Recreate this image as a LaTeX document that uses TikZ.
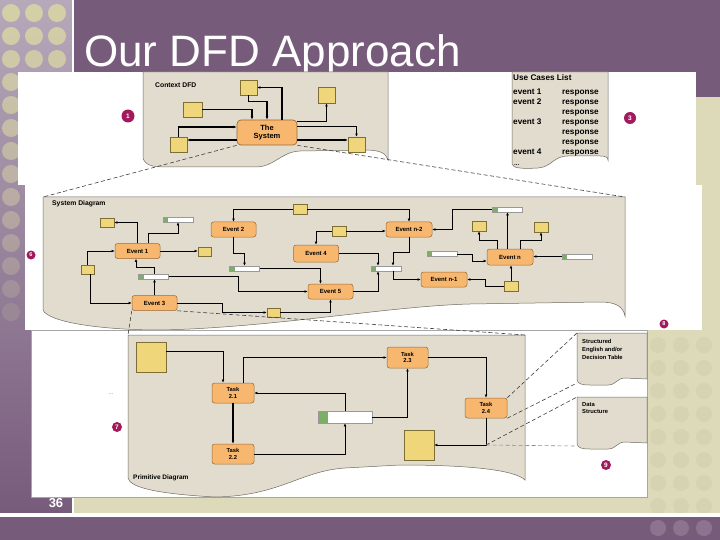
\documentclass[tikz,border=0pt]{standalone}
\usepackage{fontspec}
\setmainfont{Liberation Sans}
\setsansfont{Liberation Sans}
\usetikzlibrary{arrows.meta}

\definecolor{slidepurple}{HTML}{775B7B}
\definecolor{lavtop}{HTML}{B6A9BA}
\definecolor{slidebeige}{HTML}{DCDAB9}
\definecolor{beigedot}{HTML}{D5D3B2}
\definecolor{banddot}{HTML}{8C748F}
\definecolor{dotbeige}{HTML}{D6D2A6}
\definecolor{panelfill}{HTML}{E2DCCE}
\definecolor{paneledge}{HTML}{6F6B62}
\definecolor{evtorange}{HTML}{F8B76E}
\definecolor{evtedge}{HTML}{9A6A36}
\definecolor{yelfill}{HTML}{EFD67A}
\definecolor{yeledge}{HTML}{7D6E36}
\definecolor{storegreen}{HTML}{7CAE69}
\definecolor{badgered}{HTML}{A2195C}

\tikzset{
  panel/.style={fill=panelfill, draw=paneledge, line width=0.5pt},
  evt/.style={draw=evtedge, fill=evtorange, rounded corners=2.5pt, line width=0.5pt,
    minimum width=45pt, minimum height=15pt, inner sep=0pt,
    font=\bfseries\fontsize{6}{7}\selectfont},
  task/.style={evt, minimum width=42pt, minimum height=20pt, align=center,
    font=\bfseries\fontsize{5.8}{6.8}\selectfont},
  yb/.style={draw=yeledge, fill=yelfill, line width=0.5pt, inner sep=0pt,
    minimum width=14pt, minimum height=10pt},
  dstore/.style={draw=gray!80, fill=white, line width=0.4pt, inner sep=0pt,
    minimum width=30pt, minimum height=5pt,
    path picture={\fill[storegreen] (path picture bounding box.north west)
      rectangle ([xshift=#1]path picture bounding box.south west);}},
  dstore/.default=5pt,
  flow/.style={line width=0.9pt, -{Latex[length=3.2pt,width=2.8pt]}},
  zoomline/.style={black!75, line width=0.6pt, dash pattern=on 4pt off 2.5pt},
  badge/.style={circle, fill=badgered, text=white, inner sep=0pt, minimum size=11pt,
    font=\bfseries\fontsize{6.5}{7}\selectfont},
  paneltitle/.style={inner sep=0pt, anchor=west, font=\bfseries\fontsize{6.8}{8}\selectfont},
  uctext/.style={inner sep=0pt, anchor=west, text height=6pt, text depth=1.5pt,
    font=\bfseries\fontsize{8.2}{9}\selectfont},
  sidetext/.style={inner sep=0pt, anchor=north west, align=left,
    font=\bfseries\fontsize{5.8}{7.8}\selectfont}
}

\begin{document}
\begin{tikzpicture}[x=1pt,y=-1pt]
\useasboundingbox (0,0) rectangle (720,540);

% slide background
\fill[slidebeige] (0,0) rectangle (720,540);
\fill[slidepurple] (72,0) rectangle (720,97);
\shade[top color=lavtop, bottom color=slidepurple] (0,0) rectangle (72,513);
\foreach \r in {0,...,13}{
  \pgfmathsetmacro{\op}{0.95-0.06*\r}
  \foreach \c in {11,34,57}
    \fill[dotbeige, opacity=\op] (\c,13+23*\r) circle (9pt);
}
\foreach \yy in {345,368,...,506}
  \foreach \xx in {658,681,704}
    \fill[beigedot] (\xx,\yy) circle (8pt);
\fill[white] (72,0) rectangle (73.5,513);
\fill[white] (0,513) rectangle (720,516.5);
\fill[slidepurple] (0,516.5) rectangle (720,540);
\foreach \xx in {658,681,704}
  \fill[banddot] (\xx,528) circle (8pt);

\node[anchor=base west, inner sep=0pt, text=white, font=\fontsize{44}{48}\selectfont] (title) at (84,66.5) {Our DFD Approach};
\node[inner sep=0pt, text=white, font=\bfseries\fontsize{13}{14}\selectfont] (pagenum) at (56,503) {36};

% screenshot pieces
\fill[white] (18,72) rectangle (696,185);
\fill[white] (25,185) rectangle (702,330);

% context DFD
\filldraw[panel] (143,72) -- (143,158) .. controls (145,165) and (152,167) .. (165,167) -- (255,167) .. controls (275,167) and (280,152) .. (300,151) -- (365,150) .. controls (380,150) and (386,153) .. (388,160) -- (388,72) -- cycle;
\node[paneltitle] (ctxtitle) at (155,85) {Context DFD};
\node[evt, minimum width=60pt, minimum height=25pt, rounded corners=4pt, align=center, line width=0.7pt, font=\bfseries\fontsize{7.5}{8.5}\selectfont] (sys) at (267,132.5) {The\\System};
\node[yb, minimum width=17pt, minimum height=15pt] (ctop) at (248.5,87.5) {};
\node[yb, minimum width=17pt, minimum height=16pt] (cright) at (326.5,95) {};
\node[yb, minimum width=19pt, minimum height=15pt] (cleft) at (192.5,109.5) {};
\node[yb, minimum width=17pt, minimum height=15pt] (clb) at (178.5,144.5) {};
\node[yb, minimum width=17pt, minimum height=15pt] (crb) at (356.5,144.5) {};
\draw[flow, line width=1.1pt] (ctop.south) -- ++(0,6) -| (sys.north);
\draw[flow, line width=1.1pt] (cleft.east) -| ([xshift=-15pt]sys.north);
\draw[flow, line width=1.1pt] ([xshift=15pt]sys.north) |- (ctop.east);
\draw[flow, line width=1.1pt] ([yshift=-2pt]sys.north east) -| (cright.south);
\draw[flow, line width=1.1pt] ([yshift=-7pt]sys.north east) -| (crb.north);
\draw[flow, line width=1.1pt] ([yshift=4.5pt]crb.west -| sys.east) -- ([yshift=4.5pt]crb.west);
\draw[flow, line width=1.1pt] (clb.north) |- ([yshift=5.5pt]sys.west);
\draw[flow, line width=1.1pt] ([yshift=4.5pt]clb.east -| sys.west) -- ([yshift=4.5pt]clb.east);

% use cases list
\filldraw[panel] (512,72) -- (512,164) .. controls (513,168) and (520,169) .. (538,168) .. controls (552,167) and (553,156) .. (568,156) -- (600,156) .. controls (605,156) and (608,157) .. (608,160) -- (608,72) -- cycle;
\node[uctext] (uctitle) at (513,78) {Use Cases List};
\node[uctext] (ucev1) at (513,92) {event 1};
\node[uctext] (ucev2) at (513,102) {event 2};
\node[uctext] (ucev3) at (513,122) {event 3};
\node[uctext] (ucev4) at (513,152) {event 4};
\foreach \yy in {92,102,112,122,132,142,152}
  \node[uctext] (resp\yy) at (562,\yy) {response};
\node[uctext, font=\bfseries\fontsize{6}{7}\selectfont] (ucmore) at (514,163) {...};

% system diagram
\filldraw[panel] (43,197) -- (43,310) .. controls (48,322) and (100,330) .. (160,330) .. controls (270,328) and (390,306) .. (470,304) -- (600,302) .. controls (615,302) and (623,306) .. (625,316) -- (625,197) -- cycle;
\node[paneltitle] (sdtitle) at (52,204) {System Diagram};
\coordinate (sdnw) at (43,197);
\coordinate (sdne) at (625,197);

\node[evt] (ev1) at (137.5,251) {Event 1};
\node[evt] (ev2) at (233.5,229.5) {Event 2};
\node[evt] (ev3) at (154.5,303) {Event 3};
\node[evt, minimum height=17pt] (ev4) at (316,253.5) {Event 4};
\node[evt] (ev5) at (330.5,291.5) {Event 5};
\node[evt, minimum width=46pt] (evn2) at (409,229.5) {Event n-2};
\node[evt, minimum width=46pt, minimum height=16pt] (evn) at (510,257) {Event n};
\node[evt, minimum width=46pt] (evn1) at (444,279.5) {Event n-1};

\node[yb, minimum height=9pt] (sA) at (107,222.5) {};
\node[yb, minimum width=13pt, minimum height=9pt] (sB) at (204.5,251.5) {};
\node[yb, minimum width=13pt, minimum height=9pt] (sC) at (87.5,269.5) {};
\node[yb] (sE) at (300,209) {};
\node[yb] (sF) at (339,231) {};
\node[yb, minimum width=13pt, minimum height=9pt] (sG) at (273.5,312.5) {};
\node[yb] (sH) at (479,226) {};
\node[yb] (sI) at (541,227) {};
\node[yb] (sJ) at (511,286) {};

\node[dstore] (sD1) at (178,219.5) {};
\node[dstore] (sD2) at (153.5,276.5) {};
\node[dstore] (sD3) at (244.5,268.5) {};
\node[dstore] (sD4) at (507.5,209.5) {};
\node[dstore] (sD5) at (442,254) {};
\node[dstore] (sD6) at (577,256.5) {};
\node[dstore] (sD7) at (386,268.5) {};

\draw[flow] ([xshift=-0.5pt]ev1.north) |- (sA.east);
\draw[flow] ([xshift=10.5pt]ev1.north) |- (178,233) -- (sD1.south);
\draw[flow] (ev1.east) -- (ev1.east -| sB.west);
\draw[flow] (sC.north) |- (ev1.west);
\draw[flow] ([xshift=3pt]sC.south) |- (ev3.west);
\draw[flow] (ev3.north) -- (ev3.north |- sD2.south);
\draw[flow] (ev3.north |- sD2.north) |- (136,267) -| ([xshift=-1.5pt]ev1.south);
\draw[flow] (sD2.east) -| (238,291.5) -- (ev5.west);
\draw[flow] (ev3.east) -| (222,312.5) -- (sG.west);
\draw[flow] (sG.east) -| (ev5.south);
\draw[flow] (sE.west) -| (ev2.north);
\draw[flow] (sE.east) -| (evn2.north);
\draw[flow] (ev2.south) |- (244.5,253) -- (sD3.north);
\draw[flow] (sD3.east) -| ([xshift=-10pt]ev5.north);
\draw[flow] (sF.west) -| (ev4.north);
\draw[flow] (sF.east) -- (sF.east -| evn2.west);
\draw[flow] (ev4.east) -| ([xshift=-8pt]sD7.north);
\draw[flow] (evn2.south) |- (393,252) -- ([xshift=7pt]sD7.north);
\draw[flow] ([xshift=7pt]sD7.south) |- (evn1.west);
\draw[flow] (ev5.east) -| ([xshift=-8pt]sD7.south);
\draw[flow] (sD4.west) -| (452,229.5) -- (evn2.east);
\draw[flow] (evn.north -| sD4.south) -- (sD4.south);
\draw[flow] ([xshift=-13pt]evn.north) |- (479,240) -- (sH.south);
\draw[flow] ([xshift=10pt]evn.north) |- (541,240) -- (sI.south);
\draw[flow] (sD5.east) -| (472,261) -- ([yshift=-4pt]evn.west);
\draw[flow] (sD6.west) -- (sD6.west -| evn.east);
\draw[flow] (sJ.north) -- (sJ.north |- evn.south);
\draw[flow] (sJ.west) -| (485,279.5) -- (evn1.east);

% primitive diagram
\filldraw[white, draw=gray!70, line width=0.6pt] (31,330) rectangle (647,497);
\filldraw[panel] (128,335) -- (128,478) .. controls (130,488) and (160,494) .. (215,497) .. controls (280,496) and (300,471) .. (345,468) -- (400,465) .. controls (470,465) and (515,470) .. (525,480) -- (525,335) -- cycle;
\node[paneltitle, font=\bfseries\fontsize{6.5}{8}\selectfont] (pdtitle) at (133,478) {Primitive Diagram};
\coordinate (pdnw) at (128,335);
\coordinate (pdne) at (525,335);

\node[yb, minimum width=30pt, minimum height=30pt] (p1) at (151,357) {};
\node[yb, minimum width=30pt, minimum height=30pt] (p2) at (419,445) {};
\node[task] (t21) at (233,393) {Task\\2.1};
\node[task] (t22) at (233,454) {Task\\2.2};
\node[task, minimum width=41pt, minimum height=21pt] (t23) at (407.5,357.5) {Task\\2.3};
\node[task] (t24) at (486,408) {Task\\2.4};
\node[dstore=10pt, minimum width=54pt, minimum height=12pt] (pst) at (345,417) {};
\coordinate (bend) at (t24.south |- p2.east);

\draw[flow, line width=0.7pt] ([yshift=6pt]p1.east) -| ([xshift=-10pt]t21.north);
\draw[flow, line width=0.7pt] ([xshift=10pt]t21.north) |- (t23.west);
\draw[flow, line width=1.1pt] (t21.south) -- (t22.north);
\draw[flow, line width=0.7pt] (pst.north) |- (t21.east);
\draw[flow, line width=0.7pt] (t22.east) -| (pst.south);
\draw[flow, line width=0.7pt] (pst.east) -| (t23.south);
\draw[flow, line width=0.7pt] (t23.east) -| (t24.north);
\draw[flow, line width=0.7pt] (t24.south) -- (bend) -- (p2.east);

% specification pages
\filldraw[panel] (577,333) -- (577,380) .. controls (578,384) and (582,385) .. (590,385) -- (608,385) .. controls (616,385) and (617,378) .. (625,378) -- (647,379) -- (647,333) -- cycle;
\filldraw[panel] (577,397) -- (577,444) .. controls (578,448) and (582,449) .. (590,449) -- (608,449) .. controls (616,449) and (617,442) .. (625,442) -- (647,443) -- (647,397) -- cycle;
\node[sidetext] (setext) at (582,339) {Structured\\English and/or\\Decision Table};
\node[sidetext] (dstext) at (582,402) {Data\\Structure};
\coordinate (senw) at (577,333);
\coordinate (sesw) at (577,383);
\coordinate (dsnw) at (577,397);
\coordinate (dssw) at (577,446);

% zoom lines
\draw[zoomline] (sys.south west) -- (sdnw);
\draw[zoomline] (sys.south east) -- (sdne);
\draw[zoomline] (ev3.south west) -- (pdnw);
\draw[zoomline] (ev3.south east) -- (pdne);
\draw[zoomline] (t24.north east) -- (senw);
\draw[zoomline] (t24.south east) -- (sesw);
\draw[zoomline] (bend) -- (dsnw);
\draw[zoomline, black!45] (bend) -- (dssw);

\node[inner sep=0pt, text=gray, font=\fontsize{6}{7}\selectfont] (more) at (111,394) {...};

% numbered markers
\node[badge, minimum size=13pt] (b1) at (128,116) {1};
\node[badge, minimum size=12pt] (b3) at (630,118) {3};
\node[badge, minimum size=9pt, font=\bfseries\fontsize{5.5}{6}\selectfont] (b6) at (31,255) {6};
\node[badge, minimum size=10pt] (b7) at (117,427) {7};
\node[badge, minimum size=9pt, font=\bfseries\fontsize{5.5}{6}\selectfont] (b8) at (664,324) {8};
\node[badge, minimum size=10pt] (b9) at (606,465) {9};
\end{tikzpicture}
\end{document}
